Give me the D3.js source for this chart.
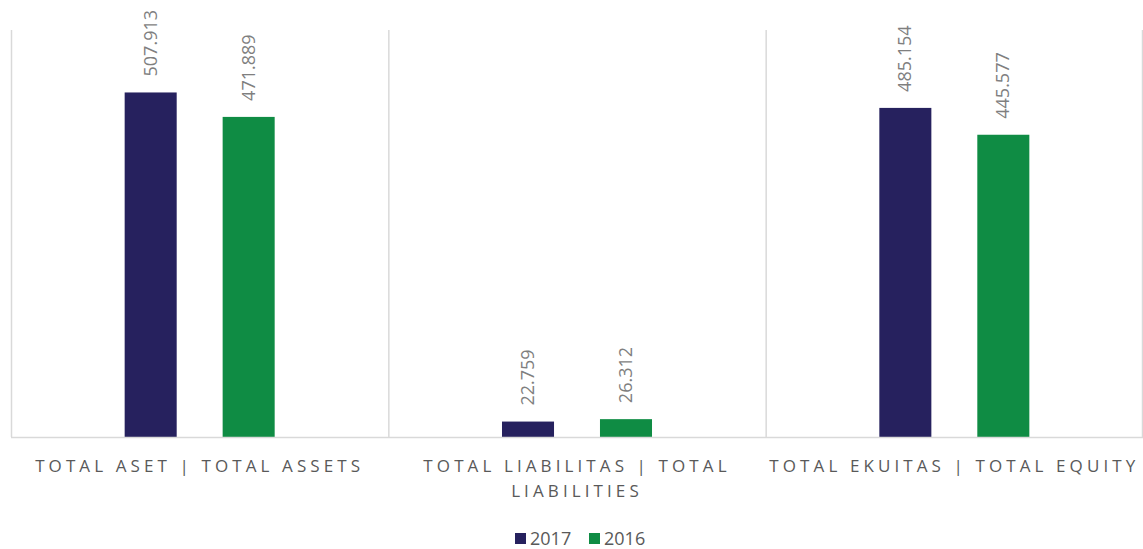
<!DOCTYPE html>
<html>
<head>
<meta charset="utf-8">
<script src="https://cdn.jsdelivr.net/npm/d3@7"></script>
<style>
  body { margin: 0; background: #fff; }
  svg { font-family: "Open Sans", sans-serif; }
</style>
</head>
<body>
<svg width="1143" height="549"></svg>
<script>
// data
const categories = ['TOTAL ASET | TOTAL ASSETS', 'TOTAL LIABILITAS | TOTAL LIABILITIES', 'TOTAL EKUITAS | TOTAL EQUITY'];
const seriesNames = ['2017', '2016'];
const values2017 = [507.913, 22.759, 485.154];
const values2016 = [471.889, 26.312, 445.577];
const colors = ['#26215e', '#0f8c44'];

const svg = d3.select('svg');
const plotLeft = 11, plotRight = 1143, plotTop = 30, baseline = 437;

const x = d3.scaleBand().domain(categories).range([plotLeft, plotRight]).padding(0);
const xs = d3.scaleBand().domain(seriesNames).range([0, x.bandwidth()])
    .paddingInner(0.469).paddingOuter(1.16);
const y = d3.scaleLinear().domain([0, 600]).range([baseline, plotTop]);

// vertical separators
svg.append('g')
    .selectAll('line')
    .data([...categories.map(c => x(c)), plotRight - 1])
    .enter()
    .append('line')
    .attr('x1', d => d + 0.5)
    .attr('x2', d => d + 0.5)
    .attr('y1', plotTop)
    .attr('y2', baseline)
    .attr('stroke', '#d9d9d9')
    .attr('stroke-width', 1.5);

const rows = categories.map((c, i) => ({ cat: c, vals: [values2017[i], values2016[i]] }));

const groups = svg.append('g')
    .selectAll('g')
    .data(rows)
    .enter()
    .append('g')
    .attr('transform', d => `translate(${x(d.cat)},0)`);

groups.selectAll('rect')
    .data(d => d.vals.map((v, i) => ({ s: seriesNames[i], v, i })))
    .enter()
    .append('rect')
    .attr('x', d => xs(d.s))
    .attr('width', xs.bandwidth())
    .attr('y', d => y(d.v))
    .attr('height', d => baseline - y(d.v))
    .attr('fill', d => colors[d.i]);

groups.selectAll('text.val')
    .data(d => d.vals.map((v, i) => ({ s: seriesNames[i], v, i })))
    .enter()
    .append('text')
    .attr('class', 'val')
    .attr('transform', d => `translate(${xs(d.s) + xs.bandwidth() / 2 + 6},${y(d.v) - 16}) rotate(-90)`)
    .attr('fill', '#7f7f7f')
    .attr('font-size', '18px')
    .text(d => d3.format('.3f')(d.v));

// baseline
svg.append('line')
    .attr('x1', plotLeft)
    .attr('x2', plotRight)
    .attr('y1', baseline + 0.5)
    .attr('y2', baseline + 0.5)
    .attr('stroke', '#d9d9d9')
    .attr('stroke-width', 1.5);

// category labels, wrapped
const catText = svg.append('g')
    .selectAll('text')
    .data(categories)
    .enter()
    .append('text')
    .attr('x', d => x(d) + x.bandwidth() / 2)
    .attr('y', 472)
    .attr('text-anchor', 'middle')
    .attr('fill', '#595959')
    .attr('font-size', '17px')
    .attr('letter-spacing', '4.1px');

catText.each(function (d) {
    const t = d3.select(this);
    const words = d.split(' ');
    let line = [];
    let tspan = t.append('tspan').attr('x', x(d) + x.bandwidth() / 2).attr('dy', 0);
    words.forEach(w => {
        line.push(w);
        tspan.text(line.join(' '));
        if (tspan.node().getComputedTextLength() > x.bandwidth() && line.length > 1) {
            line.pop();
            tspan.text(line.join(' '));
            line = [w];
            tspan = t.append('tspan').attr('x', x(d) + x.bandwidth() / 2).attr('dy', 25).text(w);
        }
    });
});

// legend
const legend = svg.append('g').attr('transform', 'translate(515,533)');
const item = legend.selectAll('g')
    .data(seriesNames)
    .enter()
    .append('g')
    .attr('transform', (d, i) => `translate(${i * 74},0)`);
item.append('rect')
    .attr('width', 11)
    .attr('height', 11)
    .attr('fill', (d, i) => colors[i]);
item.append('text')
    .attr('x', 15)
    .attr('y', 11.5)
    .attr('fill', '#595959')
    .attr('font-size', '18px')
    .text(d => d);
</script>
</body>
</html>
